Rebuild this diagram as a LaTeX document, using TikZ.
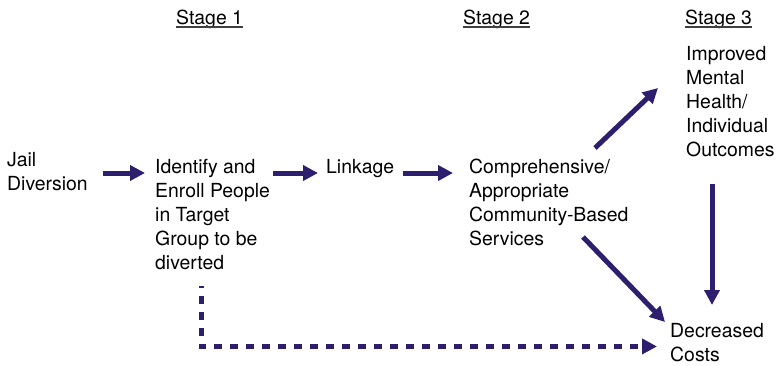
\documentclass[tikz,border=0pt]{standalone}
\usepackage{fontspec}
\setmainfont{TeX Gyre Heros}
\usetikzlibrary{arrows.meta}
\definecolor{flow}{HTML}{2E1F6E}
\begin{document}
\begin{tikzpicture}[x=1pt,y=-1pt,
  txt/.style={inner sep=0pt,align=left,font=\fontsize{19.4}{24}\selectfont},
  stagehead/.style={txt,anchor=base west},
  uline/.style={draw=black!75,line width=1.1pt},
  arr/.style={draw=flow,line width=5pt,-{Triangle[length=15pt,width=15pt]}},
  dsh/.style={arr,dash pattern=on 8pt off 8pt,dash phase=6pt}]
\useasboundingbox (0,0) rectangle (776,365);

% stage headings
\node[stagehead] (s1) at (176,24) {Stage 1};
\node[stagehead] (s2) at (463,24) {Stage 2};
\node[stagehead] (s3) at (685,24) {Stage 3};
\foreach \s in {s1,s2,s3}
  \draw[uline] ([yshift=-3pt]\s.base west) -- ([yshift=-3pt]\s.base east);

% process steps
\node[txt,anchor=west] (jail) at (7,172) {Jail\\Diversion};
\node[txt,anchor=north west] (ident) at (155,159)
  {Identify and\\Enroll People\\in Target\\Group to be\\diverted};
\node[txt,anchor=base west] (link) at (326,173) {Linkage};
\node[txt,anchor=north west] (comp) at (469,159)
  {Comprehensive/\\Appropriate\\Community-Based\\Services};
\node[txt,anchor=north west] (improved) at (686,46)
  {Improved\\Mental\\Health/\\Individual\\Outcomes};
\node[txt,anchor=north west] (decreased) at (670,323) {Decreased\\Costs};

% horizontal flow along the baseline of the first text line
\draw[arr] ([xshift=15pt]jail.east |- link.base) -- ([xshift=-10pt]ident.west |- link.base);
\draw[arr] ([xshift=3pt]ident.east |- link.base) -- ([xshift=-8pt]link.base west);
\draw[arr] ([xshift=9pt]link.base east) -- ([xshift=-16pt]comp.west |- link.base);
% branching outcomes
\draw[arr] ([xshift=126pt,yshift=11pt]comp.north west) -- ([xshift=-28pt,yshift=-42pt]improved.north west);
\draw[arr] ([xshift=114pt,yshift=-78pt]comp.north west) -- ([xshift=-5pt,yshift=1pt]decreased.north west);
\draw[arr] ([xshift=26pt,yshift=-27pt]improved.south west) -- ([xshift=42pt,yshift=18pt]decreased.north west);
\draw[dsh] ([xshift=46pt,yshift=-16pt]ident.south west) |- ([xshift=-13pt,yshift=-4pt]decreased.west);
\end{tikzpicture}
\end{document}
